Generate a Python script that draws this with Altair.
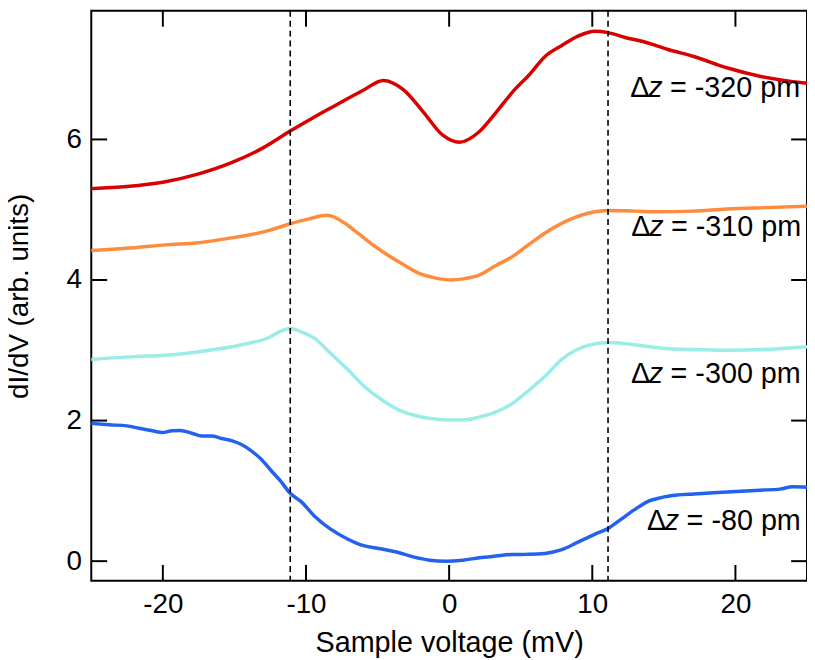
import altair as alt
import pandas as pd

# ---- data ----
red_x = [-25, -22.5, -20, -17.5, -15.2, -13, -11.1, -9.5, -7.8, -6, -4.6, -3.2, -1.8, -0.44, 0.72,
         2.1, 3.3, 4.5, 5.6, 6.7, 7.9, 9, 10.2, 11.1, 12.3, 13.6, 15.3, 17.1, 19.4, 21.7, 25]
red_y = [5.30, 5.33, 5.39, 5.51, 5.67, 5.88, 6.12, 6.31, 6.50, 6.70, 6.84, 6.71, 6.39, 6.06, 5.96,
         6.11, 6.39, 6.69, 6.92, 7.18, 7.34, 7.47, 7.54, 7.52, 7.45, 7.39, 7.28, 7.18, 7.02, 6.90, 6.80]

orange_x = [-25, -22, -19.8, -17.5, -15.2, -14, -12.5, -11.1, -9.8, -8.5, -7.3, -6.4, -5.4, -4.4, -3.2,
            -2.05, -1, 0.14, 1.1, 2.1, 3.3, 4.4, 5.6, 6.7, 7.9, 9.7, 11.1, 13, 14.8, 17, 19.4, 22, 25]
orange_y = [4.42, 4.46, 4.50, 4.53, 4.60, 4.64, 4.71, 4.80, 4.87, 4.92, 4.81, 4.67, 4.51, 4.37, 4.22,
            4.09, 4.03, 4.00, 4.02, 4.07, 4.21, 4.33, 4.51, 4.67, 4.81, 4.95, 4.99, 4.98, 4.97, 4.98, 5.01, 5.03, 5.05]

cyan_x = [-25, -22, -19.8, -17.5, -15.2, -14, -12.5, -11.8, -11.1, -10.2, -9.4, -8.3, -7.1, -6, -4.8,
          -3.6, -2.5, -1.3, -0.2, 1, 2.1, 3.25, 4.4, 5.56, 6.7, 7.87, 9.7, 11.1, 12.5, 14.8, 17, 19.4, 22, 25]
cyan_y = [2.87, 2.91, 2.93, 2.98, 3.05, 3.10, 3.19, 3.27, 3.31, 3.25, 3.17, 2.96, 2.73, 2.50, 2.31,
          2.16, 2.08, 2.03, 2.01, 2.01, 2.05, 2.12, 2.24, 2.43, 2.63, 2.87, 3.07, 3.11, 3.09, 3.03, 3.01, 3.00, 3.01, 3.05]

blue_x = [-25, -23.74, -22.51, -21.66, -20.74, -20.05, -19.36, -18.78, -17.97, -17.28, -16.59, -15.9,
          -15.2, -14.51, -13.82, -13.13, -12.44, -11.74, -11.1, -10.36, -9.4, -8.28, -7.1, -5.98, -4.82,
          -3.67, -2.51, -1.36, -0.21, 0.95, 2.1, 3.25, 4.4, 5.56, 6.7, 7.87, 9.0, 10.2, 11.1, 12.0, 12.95,
          13.87, 14.8, 15.95, 17.1, 19.4, 21.7, 23.1, 24.0, 25]
blue_y = [1.96, 1.94, 1.925, 1.89, 1.855, 1.83, 1.855, 1.86, 1.82, 1.78, 1.78, 1.745,
          1.715, 1.66, 1.57, 1.45, 1.29, 1.13, 0.965, 0.85, 0.64, 0.455, 0.316, 0.22, 0.177,
          0.13, 0.06, 0.014, 0.0, 0.014, 0.047, 0.072, 0.095, 0.097, 0.11, 0.163, 0.27, 0.385, 0.464, 0.594, 0.733,
          0.848, 0.904, 0.94, 0.955, 0.983, 1.01, 1.025, 1.057, 1.05]

series_names = ["-320 pm", "-310 pm", "-300 pm", "-80 pm"]
series_colors = ["#d90000", "#ff8b3d", "#9aece6", "#2262ee"]

label_x = [12.66, 12.73, 12.7, 13.82]
label_y = [6.60, 4.62, 2.54, 0.45]
label_rest = ["= -320 pm", "= -310 pm", "= -300 pm", "= -80 pm"]

dash_x = [-11.1, 11.1]
xtick_vals = [-20, -10, 0, 10, 20]
ytick_vals = [0, 2, 4, 6]

# ---- build tables ----
rows = []
for name, xs, ys in zip(series_names, [red_x, orange_x, cyan_x, blue_x], [red_y, orange_y, cyan_y, blue_y]):
    for i, (a, b) in enumerate(zip(xs, ys)):
        rows.append({"series": name, "v": a, "s": b, "order": i})
df = pd.DataFrame(rows)
lab = pd.DataFrame({"x": label_x, "y": label_y, "rest": label_rest,
                    "delta": ["Δ"] * 4, "z": ["z"] * 4})
dash = pd.DataFrame({"x": dash_x})
xt = pd.DataFrame({"v": xtick_vals})
yt = pd.DataFrame({"v": ytick_vals})

W, H = 722, 575
FONT = "Liberation Sans"

xscale = alt.Scale(domain=[-25, 25], nice=False, zero=False)
yscale = alt.Scale(domain=[-0.28, 7.83], nice=False, zero=False)

xaxis = alt.Axis(values=xtick_vals, ticks=False, tickSize=0, domain=False, grid=False,
                 labelExpr="'' + datum.value",
                 labelFontSize=28, labelFont=FONT, labelColor="black", labelPadding=10,
                 title="Sample voltage (mV)", titleFont=FONT, titleFontSize=29,
                 titleFontWeight="normal", titleColor="black", titlePadding=10)
yaxis = alt.Axis(values=ytick_vals, ticks=False, tickSize=0, domain=False, grid=False,
                 labelExpr="'' + datum.value",
                 labelFontSize=28, labelFont=FONT, labelColor="black", labelPadding=10,
                 title="dI/dV (arb. units)", titleFont=FONT, titleFontSize=28,
                 titleFontWeight="normal", titleColor="black", titlePadding=33)

lines = alt.Chart(df).mark_line(strokeWidth=3.5, interpolate="monotone").encode(
    x=alt.X("v:Q", scale=xscale, axis=xaxis),
    y=alt.Y("s:Q", scale=yscale, axis=yaxis),
    color=alt.Color("series:N", scale=alt.Scale(domain=series_names, range=series_colors), legend=None),
    order="order:Q",
)

dashes = alt.Chart(dash).mark_rule(color="black", strokeWidth=1.6, strokeDash=[6, 4]).encode(
    x=alt.X("x:Q", scale=xscale), y=alt.value(0), y2=alt.value(H))

tk = dict(color="black", strokeWidth=2)
tick_b = alt.Chart(xt).mark_rule(**tk).encode(x=alt.X("v:Q", scale=xscale), y=alt.value(H), y2=alt.value(H - 16))
tick_t = alt.Chart(xt).mark_rule(**tk).encode(x=alt.X("v:Q", scale=xscale), y=alt.value(0), y2=alt.value(16))
tick_l = alt.Chart(yt).mark_rule(**tk).encode(y=alt.Y("v:Q", scale=yscale), x=alt.value(0), x2=alt.value(16))
tick_r = alt.Chart(yt).mark_rule(**tk).encode(y=alt.Y("v:Q", scale=yscale), x=alt.value(W), x2=alt.value(W - 16))

tstyle = dict(align="left", baseline="alphabetic", fontSize=29, font=FONT, color="black")
t_delta = alt.Chart(lab).mark_text(**tstyle).encode(
    x=alt.X("x:Q", scale=xscale), y=alt.Y("y:Q", scale=yscale), text="delta:N")
t_z = alt.Chart(lab).mark_text(dx=18, fontStyle="italic", **tstyle).encode(
    x=alt.X("x:Q", scale=xscale), y=alt.Y("y:Q", scale=yscale), text="z:N")
t_rest = alt.Chart(lab).mark_text(dx=40, **tstyle).encode(
    x=alt.X("x:Q", scale=xscale), y=alt.Y("y:Q", scale=yscale), text="rest:N")

chart = alt.layer(lines, dashes, tick_b, tick_t, tick_l, tick_r, t_delta, t_z, t_rest).properties(
    width=W, height=H,
    background="white",
    autosize=alt.AutoSizeParams(type="none"),
    padding={"left": 84, "top": 0, "right": 0, "bottom": 75},
).configure_view(stroke="black", strokeWidth=2)

chart.save("out.html", embed_options={"renderer": "svg", "actions": False})
